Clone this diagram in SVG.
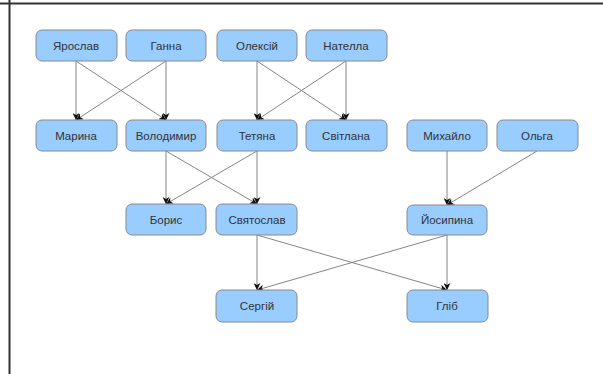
<svg xmlns="http://www.w3.org/2000/svg" width="603" height="374" viewBox="0 0 603 374">
<defs>
<style>
.n rect{fill:#99ccff;stroke:#8a8a8a;stroke-width:1}
.n text{font-family:"Liberation Sans",Arial,sans-serif;font-size:11.5px;fill:#333;text-anchor:middle}
.e line{stroke:#777;stroke-width:0.9;marker-end:url(#ah)}
</style>
<marker id="ah" viewBox="0 0 10 10" refX="10" refY="5" markerWidth="7" markerHeight="7" markerUnits="userSpaceOnUse" orient="auto">
<path d="M0,0 L10,5 L0,10 L3,5 Z" fill="#111"/>
</marker>
</defs>
<rect width="603" height="374" fill="#fff"/>
<line x1="0" y1="3.5" x2="603" y2="3.5" stroke="#333" stroke-width="2"/>
<line x1="9.5" y1="0" x2="9.5" y2="374" stroke="#333" stroke-width="2"/>
<g class="e">
<line x1="76" y1="61" x2="76" y2="120"/>
<line x1="76" y1="61" x2="166" y2="120"/>
<line x1="166" y1="61" x2="76" y2="120"/>
<line x1="166" y1="61" x2="166" y2="120"/>
<line x1="257" y1="61" x2="257" y2="120"/>
<line x1="257" y1="61" x2="346" y2="120"/>
<line x1="346" y1="61" x2="257" y2="120"/>
<line x1="346" y1="61" x2="346" y2="120"/>
<line x1="166" y1="151" x2="166" y2="204"/>
<line x1="166" y1="151" x2="257" y2="204"/>
<line x1="257" y1="151" x2="166" y2="204"/>
<line x1="257" y1="151" x2="257" y2="204"/>
<line x1="447" y1="151" x2="447" y2="205"/>
<line x1="537" y1="151" x2="447" y2="205"/>
<line x1="257" y1="235" x2="257" y2="290"/>
<line x1="257" y1="235" x2="447" y2="290"/>
<line x1="447" y1="235" x2="257" y2="290"/>
<line x1="447" y1="235" x2="447" y2="290"/>
</g>
<g id="yaroslav" class="n"><rect x="36" y="30" width="81" height="31" rx="6"/><text x="76" y="49.5">Ярослав</text></g>
<g id="hanna" class="n"><rect x="126" y="30" width="80" height="31" rx="6"/><text x="166" y="49.5">Ганна</text></g>
<g id="oleksii" class="n"><rect x="217" y="30" width="80" height="31" rx="6"/><text x="257" y="49.5">Олексій</text></g>
<g id="natella" class="n"><rect x="306" y="30" width="81" height="31" rx="6"/><text x="346" y="49.5">Нателла</text></g>
<g id="maryna" class="n"><rect x="36" y="120" width="81" height="31" rx="6"/><text x="76" y="139.5">Марина</text></g>
<g id="volodymyr" class="n"><rect x="126" y="120" width="80" height="31" rx="6"/><text x="166" y="139.5">Володимир</text></g>
<g id="tetiana" class="n"><rect x="217" y="120" width="80" height="31" rx="6"/><text x="257" y="139.5">Тетяна</text></g>
<g id="svitlana" class="n"><rect x="306" y="120" width="81" height="31" rx="6"/><text x="346" y="139.5">Світлана</text></g>
<g id="mykhailo" class="n"><rect x="407" y="120" width="80" height="31" rx="6"/><text x="447" y="139.5">Михайло</text></g>
<g id="olha" class="n"><rect x="497" y="120" width="81" height="31" rx="6"/><text x="537" y="139.5">Ольга</text></g>
<g id="borys" class="n"><rect x="126" y="204" width="80" height="31" rx="6"/><text x="166" y="223.5">Борис</text></g>
<g id="sviatoslav" class="n"><rect x="216" y="204" width="81" height="31" rx="6"/><text x="257" y="223.5">Святослав</text></g>
<g id="yosypyna" class="n"><rect x="407" y="205" width="80" height="30" rx="6"/><text x="447" y="224">Йосипина</text></g>
<g id="serhii" class="n"><rect x="216" y="290" width="81" height="32" rx="6"/><text x="257" y="310">Сергій</text></g>
<g id="hlib" class="n"><rect x="407" y="290" width="81" height="32" rx="6"/><text x="447" y="310">Гліб</text></g>
</svg>
